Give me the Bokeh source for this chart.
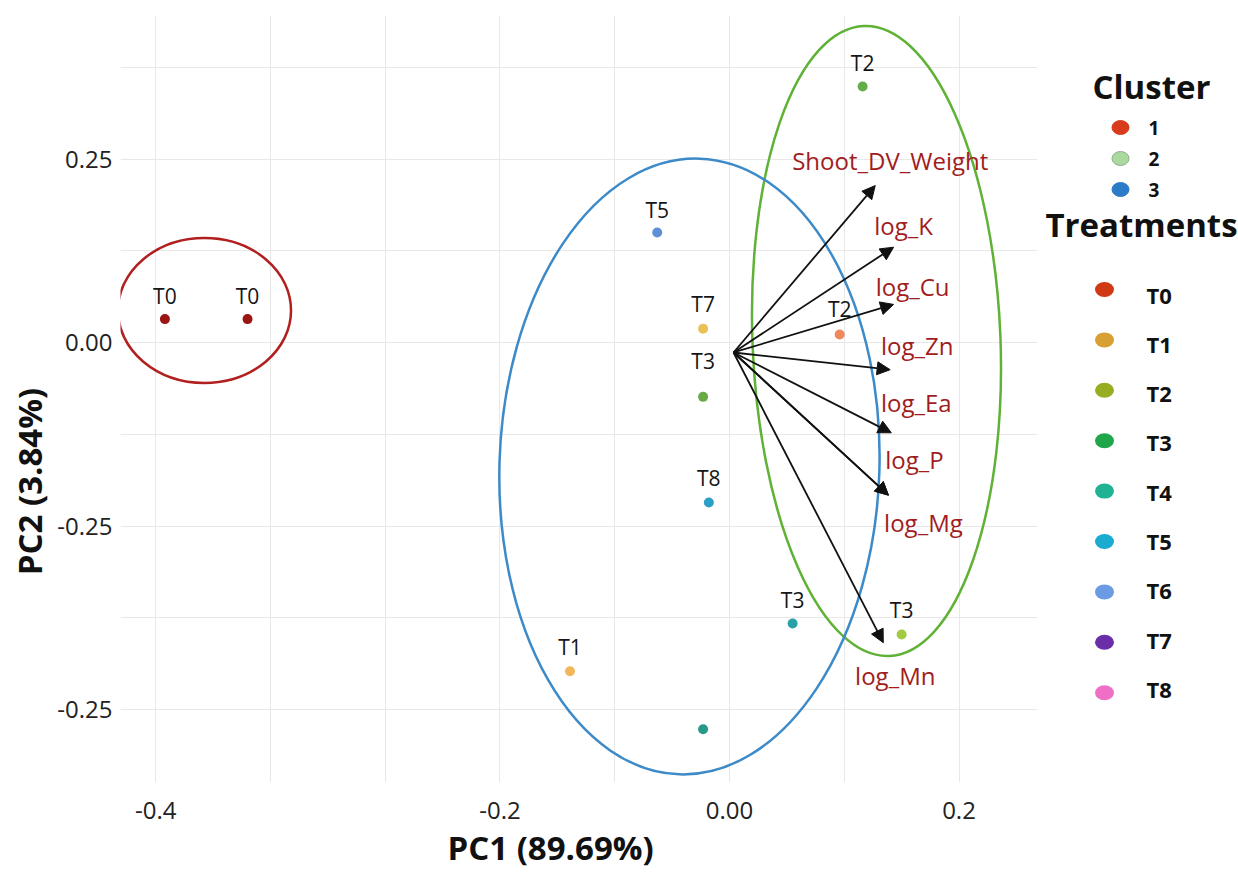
import math
from bokeh.plotting import figure
from bokeh.models import ColumnDataSource, Range1d, FixedTicker, Arrow, NormalHead, Title
from bokeh.layouts import row
from bokeh.embed import file_html
from bokeh.resources import INLINE
from bokeh.core.properties import value

# ---------------- data ----------------
obs_labels = ["T0", "T0", "T5", "T7", "T3", "T8", "T1", "", "T3", "T2", "T2", "T3"]
obs_pc1 = [-0.492, -0.420, -0.063, -0.023, -0.023, -0.018, -0.139, -0.023, 0.055, 0.096, 0.116, 0.150]
obs_pc2 = [0.032, 0.032, 0.150, 0.019, -0.074, -0.218, -0.448, -0.527, -0.383, 0.011, 0.349, -0.398]
obs_colors = ["#9b1515", "#9b1515", "#5d90d8", "#e9c157", "#69aa46", "#2c9fc6",
              "#f2b75c", "#26998a", "#28a1a9", "#f0885c", "#63ad49", "#a2cc3d"]

var_names = ["Shoot_DV_Weight", "log_K", "log_Cu", "log_Zn", "log_Ea", "log_P", "log_Mg", "log_Mn"]
var_pc1 = [0.127, 0.143, 0.143, 0.140, 0.141, 0.1385, 0.1385, 0.134]
var_pc2 = [0.214, 0.130, 0.052, -0.037, -0.123, -0.208, -0.208, -0.409]
arrow_origin_pc1 = 0.0035
arrow_origin_pc2 = -0.0135

cluster_names = ["1", "2", "3"]
cluster_colors = ["#d83c1c", "#a9d99f", "#2c7bc8"]
ellipse_pc1 = [-0.4575, 0.1281, -0.0349]
ellipse_pc2 = [0.0438, 0.0022, -0.1689]
ellipse_w = [0.1508, 0.2161, 0.3311]
ellipse_h = [0.1976, 0.8600, 0.8396]
ellipse_angle = [0.0, 0.04, -0.033]
ellipse_line_colors = ["#b21f1f", "#5fb236", "#3d8ac9"]

treatment_names = ["T0", "T1", "T2", "T3", "T4", "T5", "T6", "T7", "T8"]
treatment_colors = ["#cf3a15", "#d8a032", "#98ad22", "#1fa54a", "#1fb394",
                    "#19acd0", "#6b9be2", "#6a2fa8", "#ef6fc6"]

x_grid_values = [-0.5, -0.4, -0.3, -0.2, -0.1, 0.0, 0.1, 0.2]
y_grid_values = [0.375, 0.25, 0.125, 0.0, -0.125, -0.25, -0.375, -0.5]
x_tick_values = [-0.5, -0.2, 0.0, 0.2]
x_tick_text = ["-0.4", "-0.2", "0.00", "0.2"]
y_tick_values = [0.25, 0.0, -0.25, -0.5]
y_tick_text = ["0.25", "0.00", "-0.25", "-0.25"]
x_title = "PC1 (89.69%)"
y_title = "PC2 (3.84%)"
legend_title_1 = "Cluster"
legend_title_2 = "Treatments"

# ---------------- layout / style ----------------
obs_label_lift = [23, 23, 23, 25, 36, 25, 24, 0, 24, 26, 24, 25]
var_label_dx = [15, 10, 19, 27, 25, 26, 35, 12]
var_label_dy = [-25, -22, -18, -24, -30, -36, 27, 33]
FONT = "Open Sans"
H = 875
TOP, BOTTOM = 15, 93          # frame spans page y 15 .. 782 in every strip

# ---------------- main plot ----------------
p = figure(width=985, height=H, x_range=Range1d(-0.5307, 0.2684), y_range=Range1d(-0.5996, 0.4458),
           output_backend="svg", toolbar_location=None,
           min_border_left=68, min_border_right=0, min_border_top=TOP, min_border_bottom=BOTTOM,
           background_fill_color="white", border_fill_color="white", outline_line_color=None)

p.xgrid.ticker = FixedTicker(ticks=x_grid_values)
p.ygrid.ticker = FixedTicker(ticks=y_grid_values)
for g in (p.xgrid[0], p.ygrid[0]):
    g.grid_line_color = "#e8e8e8"
    g.grid_line_width = 1

for ax in (p.xaxis[0], p.yaxis[0]):
    ax.axis_line_color = None
    ax.major_tick_line_color = None
    ax.minor_tick_line_color = None
    ax.major_tick_out = 0
    ax.major_tick_in = 0
    ax.minor_tick_out = 0
    ax.minor_tick_in = 0
    ax.major_label_text_font = FONT
    ax.major_label_text_font_size = "24px"
    ax.major_label_text_color = "#222222"
p.xaxis[0].ticker = FixedTicker(ticks=x_tick_values)
p.xaxis[0].major_label_overrides = {v: t for v, t in zip(x_tick_values, x_tick_text)}
p.yaxis[0].ticker = FixedTicker(ticks=y_tick_values)
p.yaxis[0].major_label_overrides = {v: t for v, t in zip(y_tick_values, y_tick_text)}
p.xaxis[0].major_label_standoff = 19
p.yaxis[0].major_label_standoff = 8

p.add_layout(Title(text=x_title, align="left", offset=327, text_font=FONT,
                   text_font_size="33px", text_font_style="bold", text_color="#111111",
                   standoff=2), "below")

ell_src = ColumnDataSource(dict(x=ellipse_pc1, y=ellipse_pc2, w=ellipse_w, h=ellipse_h,
                                a=ellipse_angle, c=ellipse_line_colors))
p.ellipse(x="x", y="y", width="w", height="h", angle="a", source=ell_src,
          fill_color=None, line_color="c", line_width=2.5)

n = len(var_names)
arrow_src = ColumnDataSource(dict(x0=[arrow_origin_pc1] * n, y0=[arrow_origin_pc2] * n,
                                  x1=var_pc1, y1=var_pc2))
p.add_layout(Arrow(end=NormalHead(size=13, fill_color="#111111", line_color="#111111", line_width=1),
                   x_start="x0", y_start="y0", x_end="x1", y_end="y1", source=arrow_src,
                   line_color="#111111", line_width=1.8))

obs_src = ColumnDataSource(dict(x=obs_pc1, y=obs_pc2, t=obs_labels, c=obs_colors,
                                dy=[-v for v in obs_label_lift]))
p.scatter(x="x", y="y", size=10, fill_color="c", line_color=None, source=obs_src)
p.text(x="x", y="y", text="t", y_offset="dy", source=obs_src, text_align="center",
       text_baseline="middle", text_font=value(FONT), text_font_size="21px", text_color="#151515")

var_src = ColumnDataSource(dict(x=var_pc1, y=var_pc2, t=var_names, dx=var_label_dx, dy=var_label_dy))
p.text(x="x", y="y", text="t", x_offset="dx", y_offset="dy", source=var_src, text_align="center",
       text_baseline="middle", text_font=value(FONT), text_font_size="24px", text_color="#a11d1d")

# ---------------- left strip with the y title (coordinates = page pixels) ----------------
left = figure(width=52, height=H, x_range=Range1d(0, 52), y_range=Range1d(H - BOTTOM, TOP),
              output_backend="svg", toolbar_location=None,
              min_border_left=0, min_border_right=0, min_border_top=TOP, min_border_bottom=BOTTOM,
              x_axis_location=None, y_axis_location=None, outline_line_color=None)
left.grid.visible = False
left.text(x=[29], y=[481], text=[y_title], angle=math.pi / 2, text_align="center",
          text_baseline="middle", text_font=value(FONT), text_font_size="33px",
          text_font_style="bold", text_color="#111111")

# ---------------- legend strip (coordinates = page pixels) ----------------
leg = figure(width=201, height=H, x_range=Range1d(1037, 1238), y_range=Range1d(H - BOTTOM, TOP),
             output_backend="svg", toolbar_location=None,
             min_border_left=0, min_border_right=0, min_border_top=TOP, min_border_bottom=BOTTOM,
             x_axis_location=None, y_axis_location=None, outline_line_color=None)
leg.grid.visible = False

leg.text(x=[1151], y=[86], text=[legend_title_1], text_align="center", text_baseline="middle",
         text_font=value(FONT), text_font_size="33px", text_font_style="bold", text_color="#111111")
cy = [127 + 31 * i for i in range(len(cluster_names))]
leg.ellipse(x=[1120] * len(cluster_names), y=cy, width=17, height=14,
            width_units="screen", height_units="screen",
            fill_color=cluster_colors, line_color=["#d83c1c", "#8fae8a", "#2c7bc8"], line_width=1)
leg.text(x=[1148] * len(cluster_names), y=cy, text=cluster_names, text_align="left",
         text_baseline="middle", text_font=value(FONT), text_font_size="19px",
         text_font_style="bold", text_color="#111111")

leg.text(x=[1141], y=[224], text=[legend_title_2], text_align="center", text_baseline="middle",
         text_font=value(FONT), text_font_size="33px", text_font_style="bold", text_color="#111111")
ty = [289 + 50.4 * i for i in range(len(treatment_names))]
tyt = [294 + 49.3 * i for i in range(len(treatment_names))]
leg.ellipse(x=[1104] * len(treatment_names), y=ty, width=19, height=15,
            width_units="screen", height_units="screen",
            fill_color=treatment_colors, line_color=None)
leg.text(x=[1146] * len(treatment_names), y=tyt, text=treatment_names, text_align="left",
         text_baseline="middle", text_font=value(FONT), text_font_size="22px",
         text_font_style="bold", text_color="#111111")

layout = row(left, p, leg)
open("out.html", "w").write(file_html(layout, INLINE))
